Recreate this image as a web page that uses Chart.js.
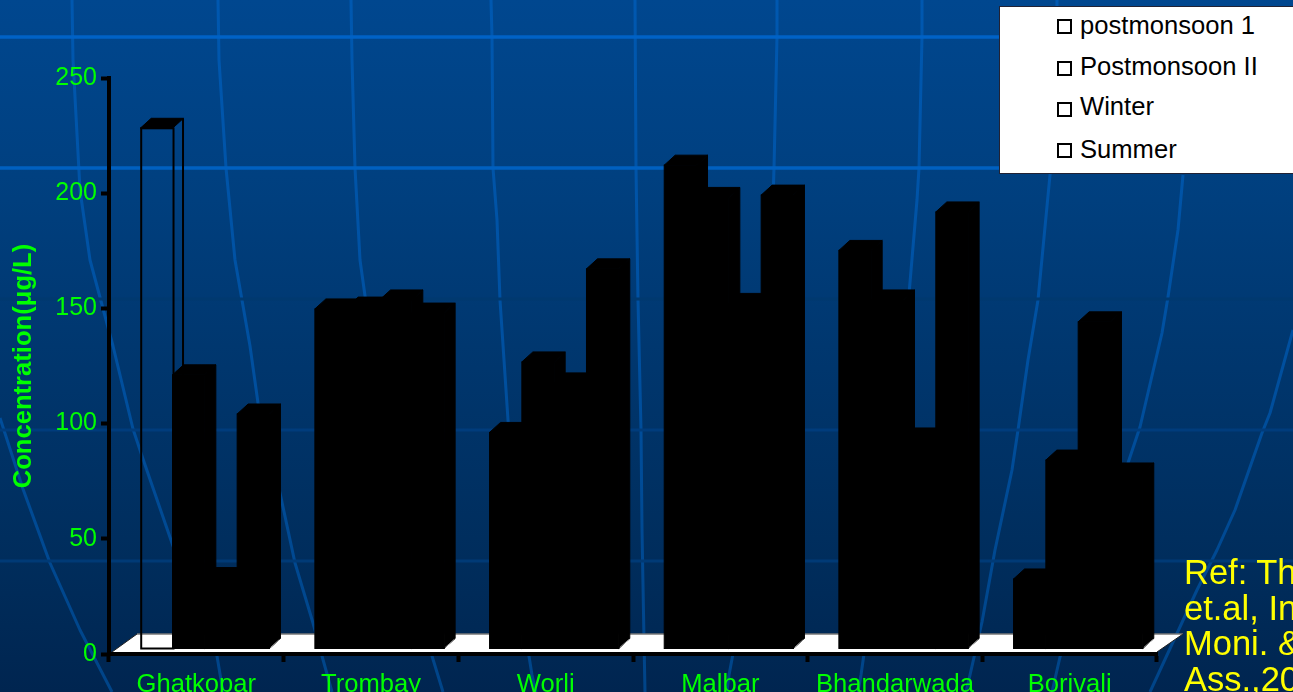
<!DOCTYPE html>
<html>
<head>
<meta charset="utf-8">
<title>Concentration</title>
<script src="https://cdn.jsdelivr.net/npm/chart.js@4"></script>
<style>
    html, body { margin: 0; width: 1293px; height: 692px; overflow: hidden; font-family: "Liberation Sans", Arial, sans-serif; }
    #page { position: relative; width: 1293px; height: 692px; overflow: hidden;
        background: linear-gradient(#00478f 0, #003f7e 200px, #00376f 346px, #002d5c 560px, #002550 692px); }
    #decor, #graphique { position: absolute; left: 0; top: 0; }
    #legende { position: absolute; left: 999px; top: 6px; width: 300px; height: 166px; background: #fff; border: 1px solid #223; box-sizing: content-box; }
    .ligne { position: absolute; left: 57px; height: 30px; line-height: 30px; font-size: 25.6px; color: #000; white-space: nowrap; }
    .ligne i { position: absolute; left: 0; width: 11px; height: 11px; border: 2px solid #000; background: #fff; }
    .ligne span { position: absolute; left: 23px; top: 0; }
    #ref { position: absolute; left: 1184px; top: 555px; font-size: 34.5px; line-height: 35.5px; color: #ffff00; white-space: pre; }
</style>
</head>
<body>
<div id="page">
    <svg id="decor" width="1293" height="692" fill="none" stroke-linejoin="round">
        <defs>
            <linearGradient id="fondLignes" gradientUnits="userSpaceOnUse" x1="0" y1="0" x2="0" y2="692">
                <stop offset="0" stop-color="#0058b0"/>
                <stop offset="0.5" stop-color="#0050a0"/>
                <stop offset="1" stop-color="#004488"/>
            </linearGradient>
        </defs>
        <g stroke="url(#fondLignes)" stroke-width="3">
            <polyline points="0,418 23,489 50,563 80,630 112,692"/>
            <polyline points="72,0 73,60 80,190 90,260 113,346 133,429 143,459 173,546 217,656 223,692"/>
            <polyline points="218,0 219,60 226,168 235,260 250,346 258,403 280,493 295,563 313,623 322,656 332,692"/>
            <polyline points="351,0 352,60 355,168 360,260 372,346 395,480 432,656 443,692"/>
            <polyline points="491,0 492,37 493,168 497,220 500,300 508,420 520,600 532,675 536,692"/>
            <polyline points="635,0 636,168 638,300 641,430 642,530 644,640 645,692"/>
            <polyline points="777,0 777,37 774,168 773,200 765,400 745,590 729,675 727,692"/>
            <polyline points="922,0 922,37 919,168 917,200 900,400 861,675 858,692"/>
            <polyline points="1057,0 1056,100 1050,175 1038,300 1028,360 1018,430 1012,470 995,550 982,622 970,675 966,692"/>
            <polyline points="1183,175 1178,230 1168,297 1162,333 1140,427 1128,463 1060,657 1052,692"/>
            <polyline points="1293,330 1270,413 1262,433 1235,510 1217,550 1197,590 1150,692"/>
        </g>
        <g>
            <line x1="0" x2="1293" y1="37" y2="37" stroke="#0062c6" stroke-width="3.5"/>
            <line x1="0" x2="1293" y1="168" y2="168" stroke="#0060c0" stroke-width="3.5"/>
            <line x1="0" x2="1293" y1="299" y2="299" stroke="#00396f" stroke-width="3"/>
            <line x1="0" x2="1293" y1="430" y2="430" stroke="#003c7c" stroke-width="3"/>
            <line x1="0" x2="1293" y1="561" y2="561" stroke="#003a76" stroke-width="3"/>
        </g>
    </svg>
    <canvas id="graphique" width="1293" height="692"></canvas>
    <div id="legende"></div>
    <div id="ref">Ref: Th
et.al, In
Moni. &amp;
Ass.,20</div>
</div>
<script>
// valeurs
const stations = ['Ghatkopar', 'Trombay', 'Worli', 'Malbar', 'Bhandarwada', 'Borivali'];
const postmonsoon1 = [226, 147.6, 94, 210, 173, 30.4];
const postmonsoon2 = [119, 148.4, 124.6, 196, 151.5, 82];
const hiver = [31, 151.5, 115.5, 150, 91.6, 142];
const ete = [102, 145.8, 165, 197, 189.7, 76.4];
const nomsSeries = ['postmonsoon 1', 'Postmonsoon II', 'Winter', 'Summer'];
const valeursAxeY = [0, 50, 100, 150, 200, 250];

const VERT = '#00ff00';
const POLICE = '"Liberation Sans", Arial, sans-serif';
const PROF_X = 11, PROF_Y = 10;     // profondeur du faux 3D
const DECAL_X = 8.5, DECAL_Y = -5;  // les barres sont au milieu du sol

function coinsBarre(barre) {
    const p = barre.getProps(['x', 'y', 'width', 'base'], true);
    return { g: p.x - p.width / 2, d: p.x + p.width / 2, y: p.y, base: p.base };
}

// sol blanc et faces 3D des barres
const plugin3D = {
    id: 'plugin3D',
    beforeDraw(chart) {
        const ctx = chart.ctx, a = chart.chartArea;
        ctx.save();
        ctx.fillStyle = '#fff';
        ctx.beginPath();
        ctx.moveTo(a.left + 3, a.bottom - 2);
        ctx.lineTo(a.left + 28, a.bottom - 20);
        ctx.lineTo(a.right + 26, a.bottom - 20);
        ctx.lineTo(a.right, a.bottom - 2);
        ctx.closePath();
        ctx.fill();
        ctx.strokeStyle = '#777';
        ctx.lineWidth = 1.5;
        ctx.beginPath();
        ctx.moveTo(a.left + 28, a.bottom - 20);
        ctx.lineTo(a.right + 26, a.bottom - 20);
        ctx.stroke();
        ctx.strokeStyle = '#222';
        ctx.lineWidth = 1;
        ctx.beginPath();
        ctx.moveTo(a.right, a.bottom - 2);
        ctx.lineTo(a.right + 26, a.bottom - 20);
        ctx.moveTo(a.left + 3, a.bottom - 2);
        ctx.lineTo(a.left + 28, a.bottom - 20);
        ctx.stroke();
        ctx.restore();
    },
    beforeDatasetsDraw(chart) {
        chart.ctx.save();
        chart.ctx.translate(DECAL_X, DECAL_Y);
    },
    beforeDatasetDraw(chart, args) {
        const ctx = chart.ctx;
        args.meta.data.forEach((barre, i) => {
            const { g, d, y, base } = coinsBarre(barre);
            const creuse = args.index === 0 && i === 0;
            ctx.save();
            ctx.fillStyle = '#000';
            ctx.strokeStyle = '#000';
            ctx.lineWidth = 1;
            // dessus
            ctx.beginPath();
            ctx.moveTo(g, y);
            ctx.lineTo(g + PROF_X, y - PROF_Y);
            ctx.lineTo(d + PROF_X, y - PROF_Y);
            ctx.lineTo(d, y);
            ctx.closePath();
            ctx.fill();
            ctx.stroke();
            // côté droit
            ctx.beginPath();
            if (creuse) {
                ctx.lineWidth = 2;
                ctx.moveTo(d + PROF_X - 0.5, y - PROF_Y);
                ctx.lineTo(d + PROF_X - 0.5, base - PROF_Y);
                ctx.stroke();
            } else {
                ctx.moveTo(d, y);
                ctx.lineTo(d + PROF_X, y - PROF_Y);
                ctx.lineTo(d + PROF_X, base - PROF_Y);
                ctx.lineTo(d, base);
                ctx.closePath();
                ctx.fill();
                ctx.stroke();
            }
            ctx.restore();
        });
    },
    afterDatasetDraw(chart, args) {
        const ctx = chart.ctx;
        args.meta.data.forEach((barre, i) => {
            const { g, d, y, base } = coinsBarre(barre);
            const creuse = args.index === 0 && i === 0;
            ctx.save();
            ctx.strokeStyle = '#000';
            ctx.lineWidth = creuse ? 2 : 1;
            // contour de face, il bouche aussi les joints entre barres
            if (creuse) ctx.strokeRect(g + 1, y, d - g, base - y);
            else ctx.strokeRect(g, y, d - g, base - y);
            // petit reflet gris au coin bas de la dernière barre du groupe
            if (args.index === 3) {
                ctx.strokeStyle = '#999';
                ctx.lineWidth = 1;
                ctx.beginPath();
                ctx.moveTo(d + 1, base - 1);
                ctx.lineTo(d + PROF_X - 1, base - PROF_Y + 1);
                ctx.stroke();
            }
            ctx.restore();
        });
    },
    afterDatasetsDraw(chart) {
        chart.ctx.restore();
    }
};

const creerSerie = (nom, valeurs, idx) => ({
    label: nom,
    data: valeurs,
    backgroundColor: valeurs.map((v, i) => (idx === 0 && i === 0) ? 'rgba(0,0,0,0)' : '#000'),
    borderWidth: 0,
    clip: false
});

new Chart(document.getElementById('graphique').getContext('2d'), {
    type: 'bar',
    plugins: [plugin3D],
    data: {
        labels: stations,
        datasets: [postmonsoon1, postmonsoon2, hiver, ete].map((v, i) => creerSerie(nomsSeries[i], v, i))
    },
    options: {
        responsive: false,
        animation: false,
        layout: { padding: { top: 78, right: 136, left: 0, bottom: 0 } },
        categoryPercentage: 0.74,
        barPercentage: 1,
        plugins: { legend: { display: false }, tooltip: { enabled: false } },
        scales: {
            x: {
                afterFit(s) { s.height = 38; },
                grid: { drawOnChartArea: false, tickColor: '#000', tickWidth: 4, tickLength: 8 },
                border: { color: '#000', width: 4 },
                ticks: { color: VERT, padding: 8, maxRotation: 0, autoSkip: false, font: { family: POLICE, size: 25.6 } }
            },
            y: {
                min: 0,
                max: 250,
                afterFit(s) { s.width = 109; },
                afterBuildTicks(s) { s.ticks = valeursAxeY.map(v => ({ value: v })); },
                grid: { drawOnChartArea: false, tickColor: '#000', tickWidth: 4, tickLength: 8 },
                border: { color: '#000', width: 4 },
                ticks: { color: VERT, padding: 4, font: { family: POLICE, size: 25 } },
                title: {
                    display: true,
                    text: 'Concentration(μg/L)',
                    color: VERT,
                    padding: { top: 9, bottom: 0 },
                    font: { family: POLICE, size: 25.6, weight: 'bold' }
                }
            }
        }
    }
});

// légende : les lignes ne sont pas régulières sur l'original
const hautLignes = [3, 44, 84, 127];
const hautCases = [9, 10, 11, 9];
const legende = document.getElementById('legende');
nomsSeries.forEach((nom, i) => {
    const ligne = document.createElement('div');
    ligne.className = 'ligne';
    ligne.style.top = hautLignes[i] + 'px';
    ligne.innerHTML = '<i style="top:' + hautCases[i] + 'px"></i><span>' + nom + '</span>';
    legende.appendChild(ligne);
});
</script>
</body>
</html>
